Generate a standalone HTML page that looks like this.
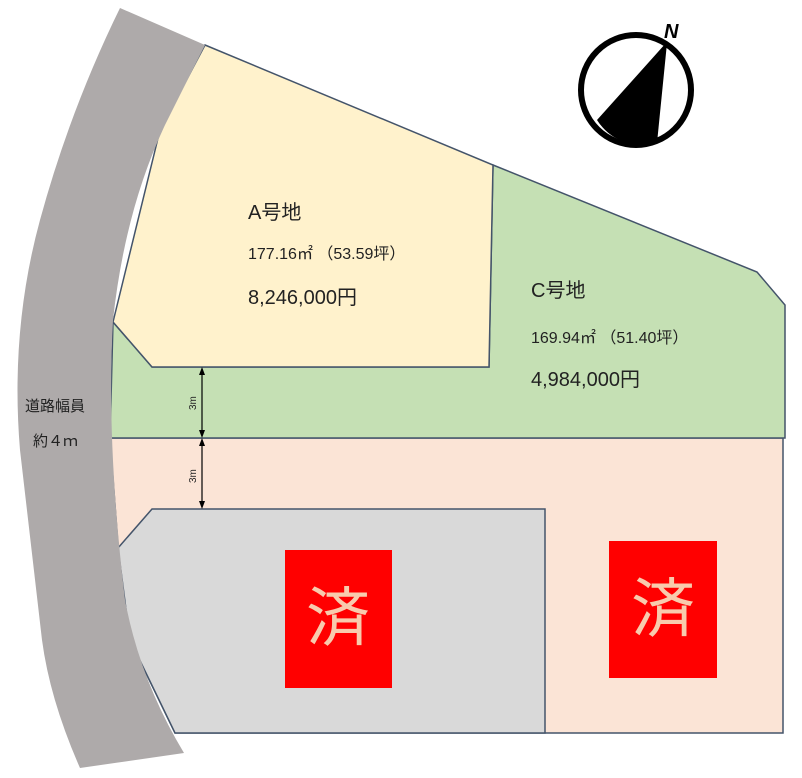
<!DOCTYPE html>
<html><head><meta charset="utf-8"><style>
html,body{margin:0;padding:0;background:#fff;}
svg{display:block;}
text{font-family:"Liberation Sans","Noto Sans CJK JP",sans-serif;fill:#222;}
</style></head><body>
<svg width="802" height="778" viewBox="0 0 802 778" xmlns="http://www.w3.org/2000/svg">
<path d="M110,438 L783,438 L783,733 L175,733 L130,640 L118,545 Z" fill="#fbe4d6" stroke="#44546a" stroke-width="1.5"/>
<path d="M493,165 L757,272 L785,305 L785,438 L110,438 L113,322 L152,367 L489,367 Z" fill="#c5e0b4" stroke="#44546a" stroke-width="1.5"/>
<path d="M205,45 L493,165 L489,367 L152,367 L113,322 L160,130 Z" fill="#fff2cc" stroke="#44546a" stroke-width="1.5"/>
<path d="M152,509 L545,509 L545,733 L175,733 L130,640 L118,548 Z" fill="#d9d9d9" stroke="#44546a" stroke-width="1.5"/>
<path d="M120,8 L205,45 L165,125 Q125,210 113,320 Q106,440 125,600 Q140,680 184,753 L80,768 Q50,700 42,640 L20,450 Q10,330 40,220 Q70,110 120,8 Z" fill="#aeaaaa"/>
<text x="25" y="411" font-size="15">道路幅員</text>
<text x="33" y="446" font-size="15">約４ｍ</text>
<g stroke="#000" stroke-width="1.2">
<line x1="202" y1="370" x2="202" y2="435"/>
<line x1="202" y1="441" x2="202" y2="506"/>
</g>
<g fill="#000">
<path d="M202,367 L199,375 L205,375 Z"/><path d="M202,438 L199,430 L205,430 Z"/>
<path d="M202,438 L199,446 L205,446 Z"/><path d="M202,509 L199,501 L205,501 Z"/>
</g>
<text font-size="10" transform="translate(196,410) rotate(-90)">3m</text>
<text font-size="10" transform="translate(196,483) rotate(-90)">3m</text>
<text x="248" y="219" font-size="20">A号地</text>
<text x="248" y="259" font-size="16">177.16㎡ （53.59坪）</text>
<text x="248" y="304" font-size="20">8,246,000円</text>
<text x="531" y="297" font-size="20">C号地</text>
<text x="531" y="343" font-size="16">169.94㎡ （51.40坪）</text>
<text x="531" y="386" font-size="20">4,984,000円</text>
<rect x="285" y="550" width="107" height="138" fill="#ff0000"/>
<rect x="609" y="541" width="108" height="137" fill="#ff0000"/>
<text x="338" y="640" font-size="64" text-anchor="middle" style="fill:#f8cbad">済</text>
<text x="663" y="631" font-size="64" text-anchor="middle" style="fill:#f8cbad">済</text>
<circle cx="636" cy="90" r="55" fill="#fff" stroke="#000" stroke-width="6"/>
<path d="M666,43 L597,120 A53,53 0 0,0 656,143 Z" fill="#000"/>
<line x1="666" y1="43" x2="656" y2="143" stroke="#000" stroke-width="2"/>
<text x="664" y="38" font-size="20" font-weight="bold" font-style="italic" style="fill:#000">N</text>
</svg>
</body></html>
